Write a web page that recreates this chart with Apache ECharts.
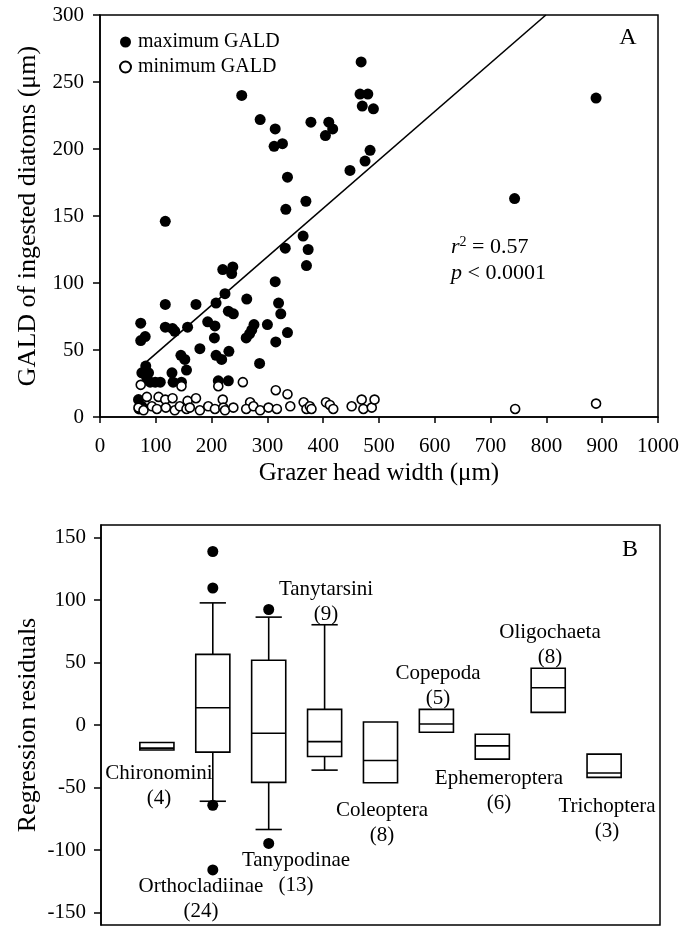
<!DOCTYPE html>
<html><head><meta charset="utf-8">
<script src="https://cdn.jsdelivr.net/npm/echarts@6/dist/echarts.min.js"></script>
<style>html,body{margin:0;padding:0;background:#fff}#c{width:682px;height:928px}</style>
</head><body><div id="c"></div>
<script>
const FONT = 'Liberation Serif';

// ---------- Panel A : GALD vs grazer head width ----------
const maxGald = [
  [73,70],[81,60],[73,57],[82,38],[87,33],[84,29],[90,26],[99,26],[108,26],[75,33],[69,13],[75,8],[70,6],
  [117,146],[117,84],[117,67],[130,66],[134,64],[129,33],[131,26],[146,26],[145,46],[152,43],[155,35],[157,67],
  [172,84],[179,51],[193,71],[206,68],[208,85],[205,59],[208,46],[218,43],[212,27],[230,27],
  [220,110],[238,112],[236,107],[224,92],[230,79],[239,77],[231,49],
  [254,240],[263,88],[276,69],[272,65],[268,62],[262,59],[286,40],[287,222],[300,69],
  [314,215],[312,202],[327,204],[336,179],[333,155],[314,101],[320,85],[324,77],[332,126],[336,63],[315,56],
  [369,161],[364,135],[373,125],[370,113],[378,220],[410,220],[417,215],[404,210],
  [448,184],[468,265],[466,241],[480,241],[470,232],[490,230],[484,199],[475,191],
  [743,163],[889,238]
];
const minGald = [
  [73,24],[146,23],[212,23],[256,26],[315,20],[336,17],
  [84,15],[105,15],[117,13],[130,14],[157,12],[172,14],[220,13],[269,11],[365,11],
  [69,7],[78,5],[93,8],[102,6],[118,7],[134,5],[143,8],[155,6],[161,7],[179,5],[194,8],[206,6],
  [221,7],[224,5],[239,7],[262,6],[275,8],[287,5],[302,7],[317,6],[341,8],[370,6],
  [376,8],[379,6],[405,11],[412,9],[418,6],[451,8],[469,13],[472,6],[487,7],[492,13],
  [744,6],[889,10]
];
const regressionLine = [[80,40],[799,300]];
const xTicksA = [0,100,200,300,400,500,600,700,800,900,1000];
const yTicksA = [0,50,100,150,200,250,300];

// ---------- Panel B : regression residuals by taxon ----------
const taxa   = ['Chironomini','Orthocladiinae','Tanypodinae','Tanytarsini','Coleoptera','Copepoda','Ephemeroptera','Oligochaeta','Trichoptera'];
const taxaN  = [4,24,13,9,8,5,6,8,3];
const q1     = [-20, -21.7, -45.9, -25.2, -46.2, -5.8, -27.3, 10.1, -41.9];
const median = [-18.5, 13.8, -6.6, -13.3, -28.4, 0.8, -16.7, 29.8, -38.4];
const q3     = [-14, 56.5, 51.8, 12.5, 2.4, 12.5, -7.4, 45.4, -23.3];
const whiskerLow  = [null, -61, -83.6, -36.1, null, null, null, null, null];
const whiskerHigh = [null, 97.7, 86.3, 80.2, null, null, null, null, null];
const outlierTaxon = [1, 1, 1, 1, 2, 2];
const outlierValue = [138.8, 109.6, -64.2, -115.9, 92.4, -94.7];
const yTicksB = [-150,-100,-50,0,50,100,150];

const boxData = taxa.map((t, i) => [i + 1, q1[i], median[i], q3[i],
  whiskerLow[i] == null ? '-' : whiskerLow[i], whiskerHigh[i] == null ? '-' : whiskerHigh[i]]);
const outlierData = outlierTaxon.map((t, i) => [t + 1, outlierValue[i]]);

function renderBox(params, api) {
  const x = api.value(0);
  const vQ1 = api.value(1), vMd = api.value(2), vQ3 = api.value(3), vLo = api.value(4), vHi = api.value(5);
  const band = api.size([1, 0])[0];
  const bw = band * 0.61, cw = band * 0.47;
  const pQ1 = api.coord([x, vQ1]);
  const cx = pQ1[0], yQ1 = pQ1[1];
  const yQ3 = api.coord([x, vQ3])[1];
  const yMd = api.coord([x, vMd])[1];
  const ls = { stroke: '#000', lineWidth: 1.6, fill: null };
  const ch = [];
  if (isFinite(vHi)) {
    const yHi = api.coord([x, vHi])[1];
    ch.push({ type: 'line', shape: { x1: cx, y1: yQ3, x2: cx, y2: yHi }, style: ls });
    ch.push({ type: 'line', shape: { x1: cx - cw / 2, y1: yHi, x2: cx + cw / 2, y2: yHi }, style: ls });
  }
  if (isFinite(vLo)) {
    const yLo = api.coord([x, vLo])[1];
    ch.push({ type: 'line', shape: { x1: cx, y1: yQ1, x2: cx, y2: yLo }, style: ls });
    ch.push({ type: 'line', shape: { x1: cx - cw / 2, y1: yLo, x2: cx + cw / 2, y2: yLo }, style: ls });
  }
  ch.push({ type: 'rect', shape: { x: cx - bw / 2, y: yQ3, width: bw, height: yQ1 - yQ3 },
            style: { fill: '#fff', stroke: '#000', lineWidth: 1.6 } });
  ch.push({ type: 'line', shape: { x1: cx - bw / 2, y1: yMd, x2: cx + bw / 2, y2: yMd }, style: ls });
  return { type: 'group', children: ch };
}

// annotation labels for panel B (name, count line placed below)
const labelPos = [
  [159, 773], [201, 886], [296, 860], [326, 589], [382, 810],
  [438, 673], [499, 778], [550, 632], [607, 806]
];

const txt = (x, y, text, size, extra) => Object.assign({
  type: 'text', x: x, y: y,
  style: { text: text, fontFamily: FONT, fontSize: size, fill: '#000', align: 'center', verticalAlign: 'middle' },
  silent: true
}, extra || {});

const graphics = [];
taxa.forEach((t, i) => {
  graphics.push(txt(labelPos[i][0], labelPos[i][1], t, 21));
  graphics.push(txt(labelPos[i][0], labelPos[i][1] + 25, '(' + taxaN[i] + ')', 21));
});
graphics.push(txt(630, 550, 'B', 24));
graphics.push(txt(628, 38, 'A', 24));
graphics.push(txt(379, 473, 'Grazer head width (μm)', 25));
graphics.push(txt(28, 216, 'GALD of ingested diatoms (μm)', 26, { rotation: Math.PI / 2 }));
graphics.push(txt(28, 725, 'Regression residuals', 26, { rotation: Math.PI / 2 }));
graphics.push({
  type: 'text', x: 451, y: 247, silent: true,
  style: {
    text: '{i|r}{s|2}{n| = 0.57}', fontFamily: FONT, fontSize: 22, fill: '#000', verticalAlign: 'middle',
    rich: {
      i: { fontFamily: FONT, fontSize: 22, fontStyle: 'italic' },
      s: { fontFamily: FONT, fontSize: 14, verticalAlign: 'top', padding: [0, 0, 10, 0] },
      n: { fontFamily: FONT, fontSize: 22 }
    }
  }
});
graphics.push({
  type: 'text', x: 451, y: 273, silent: true,
  style: {
    text: '{i|p}{n| < 0.0001}', fontFamily: FONT, fontSize: 22, fill: '#000', verticalAlign: 'middle',
    rich: {
      i: { fontFamily: FONT, fontSize: 22, fontStyle: 'italic' },
      n: { fontFamily: FONT, fontSize: 22 }
    }
  }
});

const axisText = { fontFamily: FONT, fontSize: 21, color: '#000', formatter: v => String(v) };
const blackLine = { show: true, lineStyle: { color: '#000', width: 1.5 } };

const chart = echarts.init(document.getElementById('c'), null, { renderer: 'canvas' });
chart.setOption({
  animation: false,
  backgroundColor: '#fff',
  graphic: graphics,
  legend: {
    data: ['maximum GALD', 'minimum GALD'],
    orient: 'vertical', left: 114, top: 27, itemGap: 5,
    itemWidth: 11, itemHeight: 11,
    textStyle: { fontFamily: FONT, fontSize: 20, color: '#000', padding: [0, 0, 0, 2] },
    selectedMode: false
  },
  grid: [
    { left: 100, right: 24, top: 15, bottom: 511, show: true, borderColor: '#000', borderWidth: 1.5,
      containLabel: false, outerBoundsMode: 'none' },
    { left: 101, right: 22, top: 525, bottom: 3, show: true, borderColor: '#000', borderWidth: 1.5,
      containLabel: false, outerBoundsMode: 'none' }
  ],
  xAxis: [
    { gridIndex: 0, type: 'value', min: 0, max: 1000, interval: 100,
      axisLine: blackLine, axisTick: { show: true, length: 6, lineStyle: { color: '#000', width: 1.5 } },
      axisLabel: Object.assign({ margin: 19, customValues: xTicksA }, axisText), splitLine: { show: false } },
    { gridIndex: 1, type: 'value', min: 0, max: 10,
      axisLine: { show: false }, axisTick: { show: false }, axisLabel: { show: false }, splitLine: { show: false } }
  ],
  yAxis: [
    { gridIndex: 0, type: 'value', min: 0, max: 300, interval: 50,
      axisLine: blackLine, axisTick: { show: true, length: 7, lineStyle: { color: '#000', width: 1.5 } },
      axisLabel: Object.assign({ margin: 16, customValues: yTicksA }, axisText), splitLine: { show: false } },
    { gridIndex: 1, type: 'value', min: -160, max: 160,
      axisLine: blackLine,
      axisTick: { show: true, length: 7, customValues: yTicksB, lineStyle: { color: '#000', width: 1.5 } },
      axisLabel: Object.assign({ margin: 15, customValues: yTicksB }, axisText), splitLine: { show: false } }
  ],
  series: [
    { name: 'maximum GALD', type: 'scatter', xAxisIndex: 0, yAxisIndex: 0, data: maxGald,
      symbol: 'circle', symbolSize: 11, itemStyle: { color: '#000', opacity: 1 } },
    { name: 'regression', type: 'line', xAxisIndex: 0, yAxisIndex: 0, data: regressionLine,
      showSymbol: false, symbol: 'none', lineStyle: { color: '#000', width: 1.6 }, silent: true },
    { name: 'minimum GALD', type: 'scatter', xAxisIndex: 0, yAxisIndex: 0, data: minGald,
      symbol: 'circle', symbolSize: 9, itemStyle: { color: '#fff', borderColor: '#000', borderWidth: 1.6, opacity: 1 } },
    { name: 'residuals', type: 'custom', xAxisIndex: 1, yAxisIndex: 1, data: boxData,
      encode: { x: 0, y: [1, 2, 3] }, renderItem: renderBox, silent: true },
    { name: 'outliers', type: 'scatter', xAxisIndex: 1, yAxisIndex: 1, data: outlierData,
      symbol: 'circle', symbolSize: 11, itemStyle: { color: '#000', opacity: 1 } }
  ]
});
</script>
</body></html>
